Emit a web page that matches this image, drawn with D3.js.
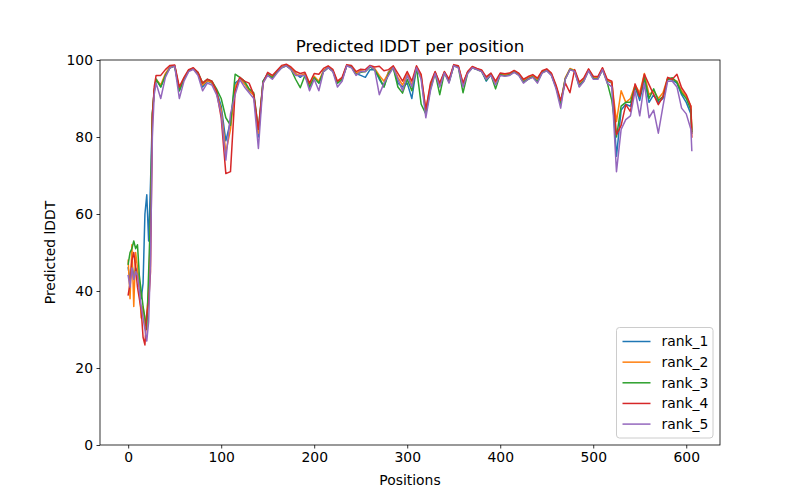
<!DOCTYPE html>
<html lang="en">
<head>
    <meta charset="UTF-8">
    <title>Predicted lDDT per position</title>
    <script src="https://d3js.org/d3.v7.min.js"></script>
    <style>
        body { margin: 0; background: #fff; }
        svg text { font-family: "DejaVu Sans", sans-serif; fill: #000; }
    </style>
</head>
<body>
    <svg id="chart"></svg>

    <script>
        // residue positions (sampled)
        const positions = [0, 2, 4, 6, 8, 10, 12, 14, 16, 18, 20, 22, 24, 26, 28, 30,
            35, 40, 45, 50, 55, 60, 65, 70, 75, 80, 85, 90, 95, 100, 105, 110, 115, 120, 125, 130,
            135, 140, 145, 150, 155, 160, 165, 170, 175, 180, 185, 190, 195, 200, 205, 210, 215, 220, 225, 230,
            235, 240, 245, 250, 255, 260, 265, 270, 275, 280, 285, 290, 295, 300, 305, 310, 315, 320, 325, 330,
            335, 340, 345, 350, 355, 360, 365, 370, 375, 380, 385, 390, 395, 400, 405, 410, 415, 420, 425, 430,
            435, 440, 445, 450, 455, 460, 465, 470, 475, 480, 485, 490, 495, 500, 505, 510, 515, 520, 525, 530,
            535, 540, 545, 550, 555, 560, 565, 570, 575, 580, 585, 590, 595, 600, 605, 606];

        const rank1 = [46, 43, 47, 44, 46, 45, 42, 38, 42, 60, 65, 53, 68, 86, 92, 95,
            93, 96, 98, 98.5, 92, 95, 97.2, 97.8, 96.5, 93, 94.5, 94, 92, 88, 79, 84, 94, 95, 94, 92,
            91, 80, 94.5, 96.5, 95.5, 97, 98.2, 98.6, 97.8, 96.5, 95.5, 96.5, 93, 95.5, 94, 97, 98, 97.2, 94, 95,
            98.5, 98.2, 96.5, 96, 95.5, 97.5, 97.5, 95, 93, 97, 98, 94, 93, 94, 90, 98, 95.5, 86, 93, 96.8,
            93.5, 96.8, 94.5, 98.5, 98.2, 93.5, 96.8, 98, 97.6, 97.2, 94.5, 96.2, 94, 96.2, 96, 96.3, 97, 96.2, 94.5, 95.3,
            95.8, 94.5, 96.8, 97.4, 96.2, 93, 89, 95.2, 97.6, 97.2, 93.5, 95, 97.4, 95.5, 95.3, 97.6, 94.5, 94, 75, 87,
            88.5, 88, 93, 89.5, 95, 89, 91, 89, 90, 95, 94.8, 94, 91, 89, 86, 81];

        const rank2 = [48, 38, 52, 36, 50, 46, 41, 33, 36, 31, 34, 40, 56, 86, 92, 95,
            93.5, 96.5, 98.2, 98.6, 92.5, 95.2, 97.3, 97.9, 96.6, 93.5, 94.6, 94.2, 91.5, 87, 76, 82, 93, 95.2, 93.8, 92.2,
            90.8, 81, 94.2, 96.4, 95.6, 97, 98.3, 98.7, 97.9, 96.4, 96, 96.4, 93.5, 95.8, 94.5, 97.3, 98.2, 97.3, 94.2, 95.2,
            98.6, 98.3, 96.6, 97.2, 97, 98.3, 97.8, 96, 94.5, 96.8, 98.2, 95.5, 93.5, 96.3, 93.5, 98.2, 95.8, 87, 93.5, 96.8,
            93.8, 96.9, 94.6, 98.6, 98.3, 93.8, 96.9, 98.2, 97.7, 97.3, 95.3, 96.4, 94.2, 96.4, 96.2, 96.4, 97.1, 96.4, 94.8, 95.5,
            96, 95, 97, 97.5, 96.4, 93.2, 89, 95.4, 97.8, 97.3, 94, 95.2, 97.5, 95.6, 95.5, 97.8, 94.8, 94.2, 84, 92,
            89, 90, 93.5, 91.5, 96.5, 91, 92, 90, 91.5, 95.3, 95, 94.5, 92, 90.5, 88, 82];

        const rank3 = [47, 50, 51, 53, 51, 52, 44, 40, 36, 33, 30, 45, 60, 86, 92, 95,
            93, 96, 98, 98.4, 92, 95, 97.2, 97.7, 96.8, 94, 95, 94.5, 92.5, 90, 85, 83, 96.3, 95.5, 94.5, 92.5,
            91.5, 82, 94.5, 96.2, 95.4, 96.8, 98, 98.5, 97.6, 95, 92.8, 96, 93, 95.4, 94, 97, 98, 97.1, 94, 95,
            98.5, 98.2, 96.2, 96.8, 97, 98.2, 97.4, 95.5, 93, 96.5, 98, 93, 91.4, 95, 92, 98, 88.5, 86, 92.5, 96.6,
            91, 96.7, 94.3, 98.5, 98.1, 91.5, 96.6, 98, 97.5, 97, 94.8, 96.1, 92.5, 96.2, 95.9, 96.1, 96.9, 96.1, 94.2, 95,
            95.6, 94.3, 96.7, 97.3, 96.1, 93, 88.5, 95.1, 97.6, 97.1, 93.2, 94.6, 97.3, 95.2, 95.1, 97.5, 94.2, 89.5, 80, 88,
            89, 89, 93.2, 90.5, 95.5, 90, 92.5, 89.5, 90.5, 95, 95.4, 94.2, 91.5, 90, 87, 81.5];

        const rank4 = [39, 42, 48, 50, 46, 41, 38, 35, 28, 26, 34, 37, 45, 85, 93, 96,
            96, 97.5, 98.6, 98.7, 93, 95.5, 97.5, 98, 96.8, 94, 95, 94.5, 92, 85, 70.5, 71, 92, 95.5, 94.5, 94,
            91, 82, 94, 96.8, 96, 97.3, 98.6, 98.9, 98.2, 97, 96.5, 96.8, 94, 96.5, 96.3, 97.8, 98.5, 97.6, 94.5, 95.5,
            98.8, 98.6, 97, 97.6, 97.5, 98.6, 98.2, 98.4, 97.2, 97.5, 98.5, 96.5, 94.5, 97, 94.5, 98.5, 96.3, 87, 94, 97,
            94, 97, 95, 98.8, 98.5, 94, 97, 98.3, 97.8, 97.4, 95.6, 96.6, 94.5, 96.6, 96.4, 96.6, 97.3, 96.6, 95, 95.7,
            96.2, 95.3, 97.2, 97.7, 96.6, 93.5, 89.5, 94, 91.5, 97.5, 94.3, 95.4, 97.7, 95.8, 95.7, 98, 95, 94.5, 80.6, 83,
            88.4, 86.6, 93.8, 90.5, 96.3, 93.6, 91, 88.4, 90.5, 95.5, 95, 96.3, 92.8, 91, 88, 80];

        const rank5 = [44, 41, 46, 43, 45, 44, 40, 36, 33, 30, 27, 32, 48, 80, 91, 94,
            90, 95.5, 98, 98.4, 90, 94.5, 97, 97.6, 96, 92, 94, 93.5, 91, 86, 74, 86, 91, 94.9, 93, 91.5,
            90, 77, 94, 96, 95, 96.6, 98, 98.5, 97.5, 96, 96, 96, 92, 95, 92, 97, 98, 97, 93, 94.5,
            98.5, 98, 96, 97, 97, 98.4, 97.5, 91, 94, 96, 98, 95, 92, 96, 93, 98, 95, 85, 92, 96.5,
            93, 96.7, 94, 98.5, 98, 93, 96.5, 98, 97.5, 97, 95, 96, 93.5, 96, 95.8, 96, 96.8, 96, 94, 95,
            95.5, 94, 96.6, 97.2, 96, 92.5, 87.5, 95, 97.5, 97, 93, 94.5, 97.2, 95, 95, 97.5, 94, 93, 71, 82,
            84.5, 85.5, 92, 85.5, 94, 85, 87, 81, 88, 94.5, 94.5, 93, 87.5, 86, 82, 76.5];

        const seriesNames = ['rank_1', 'rank_2', 'rank_3', 'rank_4', 'rank_5'];
        const seriesValues = [rank1, rank2, rank3, rank4, rank5];
        const colors = ['#1f77b4', '#ff7f0e', '#2ca02c', '#d62728', '#9467bd'];
        const xTicks = [0, 100, 200, 300, 400, 500, 600];
        const yTicks = [0, 20, 40, 60, 80, 100];

        const width = 800, height = 500;
        const margin = { top: 60, right: 80, bottom: 55, left: 100 };
        const innerW = width - margin.left - margin.right;
        const innerH = height - margin.top - margin.bottom;

        const svg = d3.select('#chart')
            .attr('width', width)
            .attr('height', height);

        const g = svg.append('g')
            .attr('transform', `translate(${margin.left},${margin.top})`);

        // matplotlib style 5% padding on x
        const [xMin, xMax] = d3.extent(positions);
        const pad = (xMax - xMin) * 0.05;
        const x = d3.scaleLinear().domain([xMin - pad, xMax + pad]).range([0, innerW]);
        const y = d3.scaleLinear().domain([0, 100]).range([innerH, 0]);

        const line = d3.line()
            .x((d, i) => x(positions[i]))
            .y(d => y(d));

        seriesValues.forEach((vals, k) => {
            g.append('path')
                .datum(vals)
                .attr('fill', 'none')
                .attr('stroke', colors[k])
                .attr('stroke-width', 1.5)
                .attr('stroke-linejoin', 'round')
                .attr('stroke-linecap', 'square')
                .attr('d', line);
        });

        const xAxis = g.append('g')
            .attr('transform', `translate(0,${innerH})`)
            .call(d3.axisBottom(x).tickValues(xTicks).tickSize(3.5).tickPadding(3.5));

        const yAxis = g.append('g')
            .call(d3.axisLeft(y).tickValues(yTicks).tickSize(3.5).tickPadding(3.5));

        [xAxis, yAxis].forEach(ax => {
            ax.select('.domain').remove();
            ax.selectAll('line').attr('stroke', '#000').attr('stroke-width', 0.8);
            ax.selectAll('text')
                .style('font-family', '"DejaVu Sans", sans-serif')
                .style('font-size', '13.9px');
        });

        // frame
        g.append('rect')
            .attr('width', innerW)
            .attr('height', innerH)
            .attr('fill', 'none')
            .attr('stroke', '#000')
            .attr('stroke-width', 0.8);

        svg.append('text')
            .attr('x', margin.left + innerW / 2)
            .attr('y', margin.top - 8)
            .attr('text-anchor', 'middle')
            .style('font-size', '16.7px')
            .text('Predicted lDDT per position');

        svg.append('text')
            .attr('x', margin.left + innerW / 2)
            .attr('y', 485)
            .attr('text-anchor', 'middle')
            .style('font-size', '13.9px')
            .text('Positions');

        svg.append('text')
            .attr('transform', `translate(55,${margin.top + innerH / 2}) rotate(-90)`)
            .attr('text-anchor', 'middle')
            .style('font-size', '13.9px')
            .text('Predicted lDDT');

        // legend, lower right
        const legend = svg.append('g').attr('transform', 'translate(616.5,327.5)');
        legend.append('rect')
            .attr('width', 96.5)
            .attr('height', 110.5)
            .attr('rx', 3)
            .attr('fill', '#fff')
            .attr('fill-opacity', 0.8)
            .attr('stroke', '#ccc')
            .attr('stroke-width', 1);

        seriesNames.forEach((name, i) => {
            const cy = 14 + i * 20.65;
            legend.append('line')
                .attr('x1', 6).attr('x2', 34)
                .attr('y1', cy).attr('y2', cy)
                .attr('stroke', colors[i])
                .attr('stroke-width', 1.5);
            legend.append('text')
                .attr('x', 45)
                .attr('y', cy)
                .attr('dy', '0.35em')
                .style('font-size', '13.9px')
                .text(name);
        });
    </script>
</body>
</html>
